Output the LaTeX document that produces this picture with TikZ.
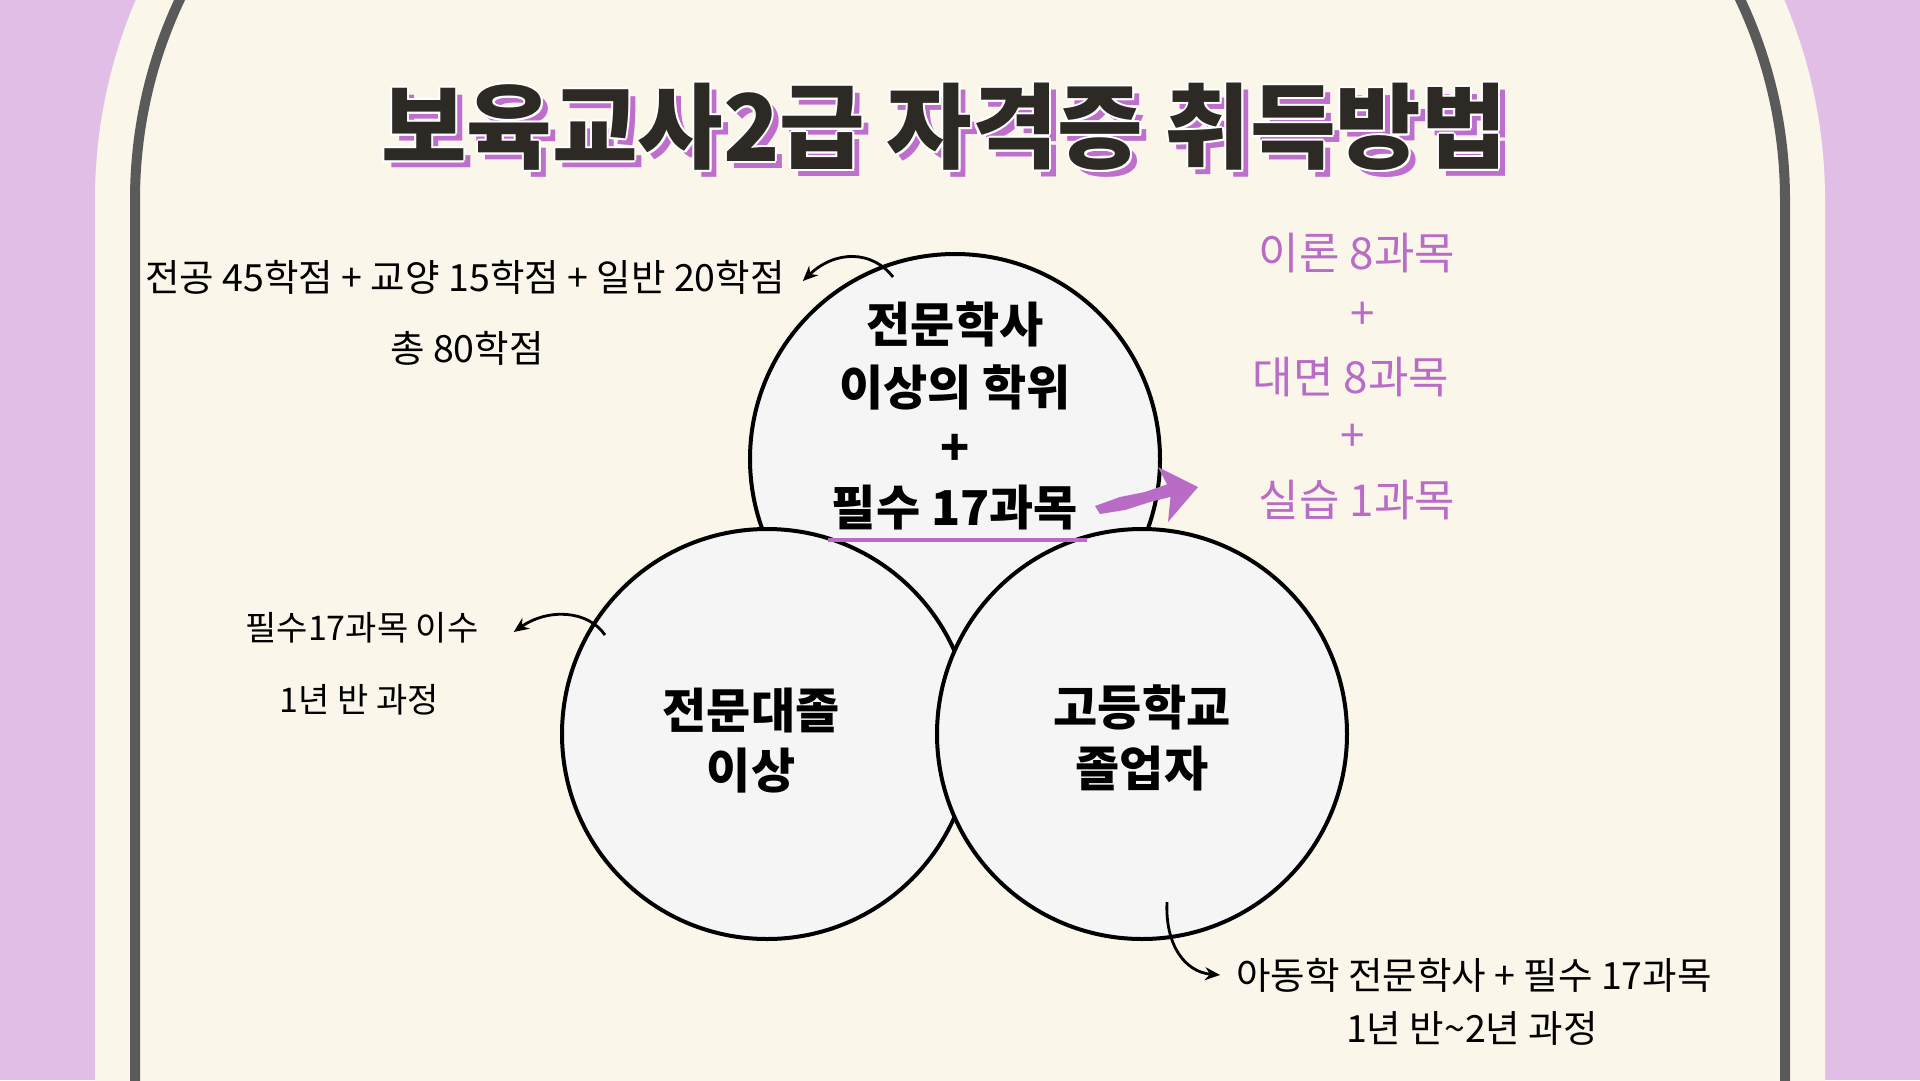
\documentclass[tikz,border=0pt]{standalone}
\usepackage{fontspec}
\usetikzlibrary{arrows.meta}
\newfontfamily\krblack{Noto Sans CJK KR Black}
\newfontfamily\kr{Noto Sans CJK KR}
\definecolor{lilac}{HTML}{E0BEE6}
\definecolor{cream}{HTML}{FAF6EA}
\definecolor{framegray}{HTML}{5A5A5A}
\definecolor{tdark}{HTML}{2D2A26}
\definecolor{tshadow}{HTML}{BD6FCB}
\definecolor{hpurple}{HTML}{B96CC6}
\definecolor{bubblefill}{HTML}{F5F5F5}
\newcommand\ttltext{보육교사2급 자격증 취득방법}
\begin{document}
\begin{tikzpicture}[x=1pt,y=-1pt,
  ttl/.style={font=\krblack\fontsize{93}{100}\selectfont, inner sep=0pt},
  bubble/.style={circle,draw=black,line width=4pt,fill=bubblefill,minimum size=410pt,inner sep=0pt},
  bubtext/.style={font=\krblack\fontsize{48}{52}\selectfont, text=black, inner sep=0pt},
  hand/.style={font=\kr\fontsize{37.5}{42}\selectfont, text=black, inner sep=0pt},
  handsm/.style={font=\kr\fontsize{34}{40}\selectfont, text=black, inner sep=0pt},
  handp/.style={font=\kr\fontsize{44}{50}\selectfont, text=hpurple, inner sep=0pt},
  arr/.style={draw=black, line width=2.8pt, -{Stealth[length=15pt,width=13pt]}}
]
\useasboundingbox (0,0) rectangle (1920,1080);
\fill[lilac] (0,0) rectangle (1920,1080);
\fill[cream,rounded corners=510pt] (95,-310) rectangle (1825,2500);
\draw[framegray,line width=10pt,rounded corners=470pt] (135,-270) rectangle (1785,2500);

% title
\node[ttl, text=tshadow] (tshad) at (951,134) {\ttltext};
\foreach \dx/\dy [count=\i] in {-2/0,2/0,0/-2,0/2,-1.5/-1.5,1.5/1.5,-1.5/1.5,1.5/-1.5}
  \node[ttl, text=white] (tw\i) at (944+\dx,127+\dy) {\ttltext};
\node[ttl, text=tdark] (title) at (944,127) {\ttltext};

% circles
\node[bubble] (ctop) at (955,459) {};
\node[bubble] (cleft) at (767,734) {};
\node[bubble] (cright) at (1142,734) {};

% top circle text
\node[bubtext] (top1) at (955,324) {전문학사};
\node[bubtext] (top2) at (955,387) {이상의 학위};
\node[bubtext] (top3) at (955,450) {+};
\node[bubtext] (top4) at (955,508) {필수 17과목};
\draw[hpurple, line width=4pt] (828,540) -- (1087,540);

\node[bubtext] (l1) at (751,710) {전문대졸};
\node[bubtext] (l2) at (751,771) {이상};
\node[bubtext] (r1) at (1142,707) {고등학교};
\node[bubtext] (r2) at (1142,769) {졸업자};

% purple brush arrow
\fill[hpurple] (1095,506) -- (1120,497) -- (1145,492) -- (1168,484) -- (1174,496) -- (1150,502) -- (1125,510) -- (1100,514) -- cycle;
\fill[hpurple] (1158,467) -- (1198,487) -- (1168,522) -- (1171,492) -- cycle;

% purple text
\node[handp] (p1) at (1357,253) {이론 8과목};
\node[handp] (p2) at (1363,316) {+};
\node[handp] (p3) at (1351,377) {대면 8과목};
\node[handp] (p4) at (1353,438) {+};
\node[handp] (p5) at (1357,500) {실습 1과목};

% left top text
\node[hand] (a1) at (465,277) {전공 45학점 + 교양 15학점 + 일반 20학점};
\node[hand] (a2) at (467,348) {총 80학점};
\coordinate (a1s) at (893,277);
\draw[arr] (a1s) .. controls (872,250) and (835,250) .. ([xshift=18pt,yshift=-4pt]a1.east);

% left middle text
\node[handsm] (b1) at (362,628) {필수17과목 이수};
\node[handsm] (b2) at (359,700) {1년 반 과정};
\coordinate (b1s) at (605,635);
\draw[arr] (b1s) .. controls (588,610) and (548,608) .. ([xshift=35pt,yshift=-4pt]b1.east);

% bottom right text
\node[hand] (c1) at (1474,975) {아동학 전문학사 + 필수 17과목};
\node[hand] (c2) at (1472,1028) {1년 반\textasciitilde 2년 과정};
\coordinate (c1s) at (1167,902);
\draw[arr] (c1s) .. controls (1165,945) and (1185,972) .. ([xshift=-16pt]c1.west);
\end{tikzpicture}
\end{document}
